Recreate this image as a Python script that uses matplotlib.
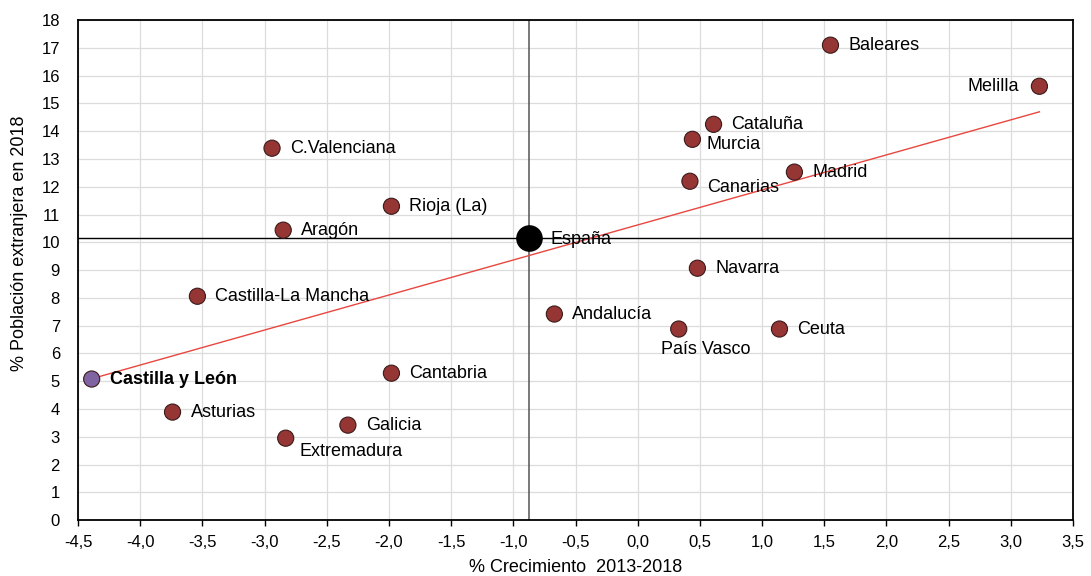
import matplotlib
matplotlib.use("Agg")
import matplotlib.pyplot as plt
from matplotlib.ticker import MultipleLocator, FuncFormatter
import numpy as np

# datos por comunidad: crecimiento 2013-2018 y % poblacion extranjera 2018
regiones = ["Baleares", "Melilla", "Cataluña", "Murcia", "Madrid", "Canarias",
            "C.Valenciana", "Rioja (La)", "Aragón", "Navarra", "Castilla-La Mancha",
            "Andalucía", "País Vasco", "Ceuta", "Cantabria", "Castilla y León",
            "Asturias", "Galicia", "Extremadura"]
crecimiento = [1.55, 3.23, 0.61, 0.44, 1.26, 0.42,
               -2.94, -1.98, -2.85, 0.48, -3.54,
               -0.67, 0.33, 1.14, -1.98, -4.39,
               -3.74, -2.33, -2.83]
extranjeros = [17.1, 15.62, 14.25, 13.71, 12.53, 12.2,
               13.39, 11.3, 10.44, 9.07, 8.06,
               7.42, 6.88, 6.88, 5.29, 5.08,
               3.89, 3.42, 2.95]

espana_x = -0.87
espana_y = 10.15

# desplazamiento de las etiquetas (pixeles) y alineacion
offsets = {"Melilla": (-20, 0, "right"), "Murcia": (14, -5, "left"),
           "Canarias": (17, -6, "left"), "País Vasco": (27, -20, "center"),
           "Extremadura": (14, -13, "left")}

fig = plt.figure(figsize=(10.91, 5.76), dpi=100)
ax = fig.add_axes([0.0715, 0.097, 0.912, 0.868])

ax.set_xlim(-4.5, 3.5)
ax.set_ylim(0, 18)
ax.xaxis.set_major_locator(MultipleLocator(0.5))
ax.yaxis.set_major_locator(MultipleLocator(1))
ax.xaxis.set_major_formatter(FuncFormatter(lambda v, p: ("%.1f" % v).replace(".", ",")))
ax.grid(True, color="#dcdcdc", linewidth=0.9)
ax.set_axisbelow(True)
for s in ax.spines.values():
    s.set_linewidth(1.3)
    s.set_color("black")

ax.axvline(espana_x, color="#555555", linewidth=1.1, zorder=2)
ax.axhline(espana_y, color="black", linewidth=1.0, zorder=2)

# linea de tendencia
xs = np.array(crecimiento)
ys = np.array(extranjeros)
m, b = np.polyfit(xs, ys, 1)
xl = np.array([xs.min(), xs.max()])
ax.plot(xl, m * xl + b, color="#e8473f", linewidth=1.0, zorder=3)

colores = ["#8064a2" if r == "Castilla y León" else "#963634" for r in regiones]
ax.scatter(crecimiento, extranjeros, s=135, c=colores, edgecolors="#3a1a1a",
           linewidths=0.8, zorder=4)
ax.scatter([espana_x], [espana_y], s=330, c="black", zorder=4)

for r, x, y in zip(regiones, crecimiento, extranjeros):
    dx, dy, ha = offsets.get(r, (18, 0, "left"))
    peso = "bold" if r == "Castilla y León" else "normal"
    ax.annotate(r, (x, y), xytext=(dx, dy), textcoords="offset pixels",
                ha=ha, va="center", fontsize=13, fontweight=peso,
                family="Liberation Sans", zorder=5)
ax.annotate("España", (espana_x, espana_y), xytext=(21, -1), textcoords="offset pixels",
            ha="left", va="center", fontsize=13, family="Liberation Sans", zorder=5)

ax.tick_params(axis="x", length=4, width=1, labelsize=12, pad=7)
ax.tick_params(axis="y", length=0, labelsize=12, pad=13)
for lab in ax.get_xticklabels() + ax.get_yticklabels():
    lab.set_family("Liberation Sans")
ax.set_xlabel("% Crecimiento  2013-2018", fontsize=13, family="Liberation Sans", labelpad=6)
ax.set_ylabel("% Población extranjera en 2018", fontsize=13, family="Liberation Sans")
ax.yaxis.set_label_coords(-0.05, 0.554)

fig.savefig("out.png", dpi=100)
